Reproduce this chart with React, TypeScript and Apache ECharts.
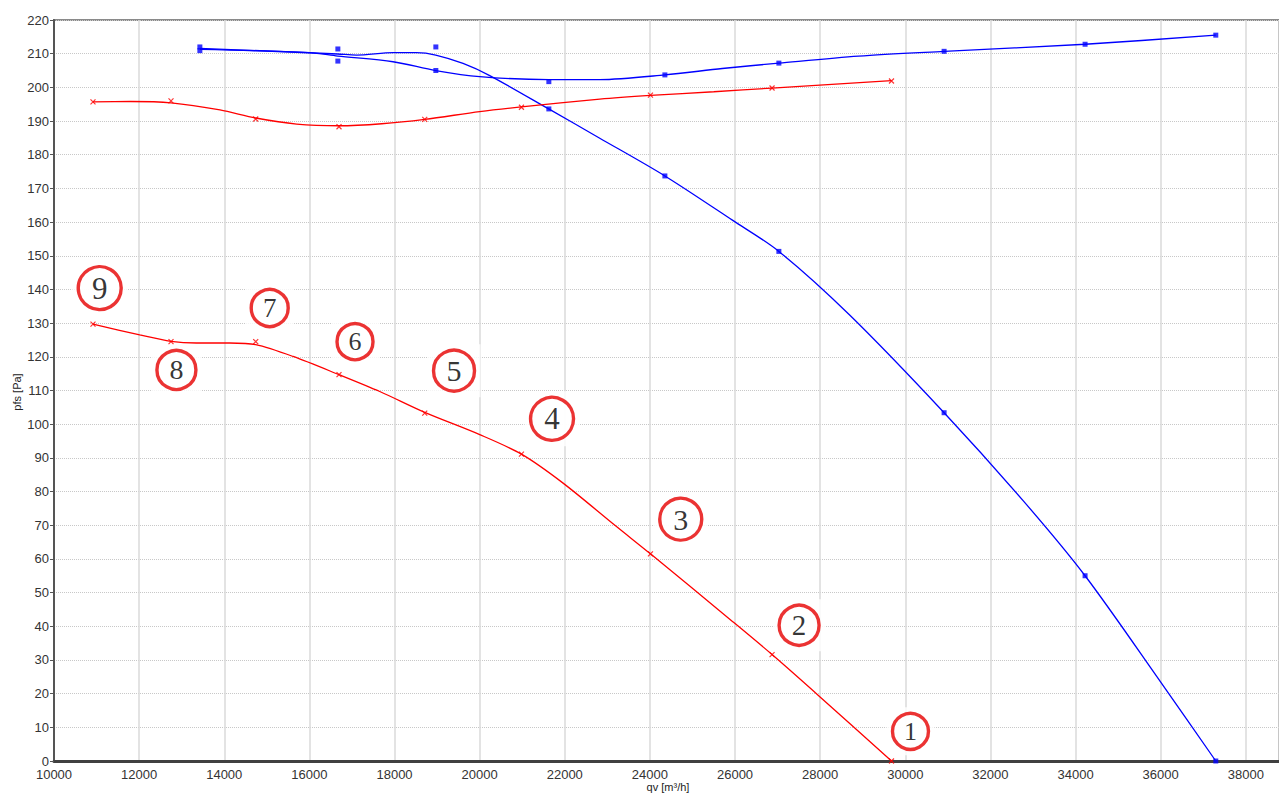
import React, { useEffect, useRef } from "react";
import * as echarts from "echarts";

// Measured operating points (flow qv in m³/h)
const qvRed = [10916, 12749, 14739, 16696, 18710, 20982, 24013, 26870, 29676];
const pfsRedLowMarks = [129.7, 124.5, 124.5, 114.7, 103.3, 91.1, 61.5, 31.6, 0];
const pfsRedHighMarks = [195.7, 196.0, 190.6, 188.3, 190.5, 194.1, 197.7, 199.8, 201.9];

const qvBlue = [13427, 16669, 18971, 21626, 24352, 27030, 30912, 34224, 37295];
const pfsBlueLowMarks = [212.0, 211.4, 212.0, 193.6, 173.7, 151.3, 103.4, 55.0, 0];
const pfsBlueHighMarks = [210.9, 207.8, 205.0, 201.7, 203.7, 207.2, 210.7, 212.8, 215.5];

// Fitted curves
const redLowCurveQv = [10916, 12014, 12749, 13346, 14128, 14739, 15616, 16696, 17653, 18710, 20002, 20982, 21960, 23214, 24013, 25954, 26870, 27991, 29676];
const redLowCurvePfs = [129.7, 126.5, 124.6, 124.1, 124.1, 123.6, 120.1, 114.7, 109.7, 103.5, 96.9, 91.1, 82.5, 69.6, 61.5, 41.3, 31.6, 19.1, 0];

const redHighCurveQv = [10916, 11800, 12749, 13900, 14739, 15700, 16696, 17700, 18710, 20002, 20982, 22822, 24013, 25500, 26870, 29676];
const redHighCurvePfs = [195.7, 195.8, 195.4, 193.3, 190.9, 189.1, 188.6, 189.2, 190.5, 192.8, 194.2, 196.5, 197.6, 198.7, 199.8, 202.0];

const blueHighCurveQv = [13427, 16008, 16666, 17965, 18968, 20002, 21623, 22822, 24352, 25700, 27030, 28900, 30912, 34224, 37295];
const blueHighCurvePfs = [211.3, 210.3, 209.3, 207.6, 205.0, 203.2, 202.3, 202.3, 203.7, 205.6, 207.2, 209.3, 210.7, 212.8, 215.5];

const blueLowCurveQv = [13427, 16666, 17105, 17965, 18515, 18968, 19610, 20237, 21623, 22822, 24352, 25947, 27030, 28693, 30912, 32768, 34224, 35997, 37295];
const blueLowCurvePfs = [211.6, 209.9, 209.6, 210.3, 210.3, 209.6, 207.1, 203.5, 193.6, 184.9, 173.7, 160.5, 151.3, 132.4, 103.4, 77.3, 55.0, 23.5, 0];

// Numbered callouts
const calloutLabels = ["9", "8", "7", "6", "5", "4", "3", "2", "1"];
const calloutQv = [11074, 12876, 15068, 17072, 19398, 21701, 24725, 27505, 30122];
const calloutPfs = [140.4, 116.1, 134.5, 124.5, 115.9, 101.6, 71.8, 40.3, 8.8];
const calloutRadius = [21.5, 19.5, 18.5, 18, 20.5, 21.5, 21, 20, 18];

const X_MIN = 10000;
const X_MAX = 38780;
const X_STEP = 2000;
const Y_MIN = 0;
const Y_MAX = 220;
const Y_STEP = 10;

const BLUE = "#0000ff";
const RED = "#ff0000";

const zip = (xs: number[], ys: number[]) => xs.map((x, i) => [x, ys[i]]);

export default function App() {
  const ref = useRef<HTMLDivElement>(null);

  useEffect(() => {
    if (!ref.current) return;
    const chart = echarts.init(ref.current, undefined, { renderer: "svg" });

    const lineSeries = (name: string, xs: number[], ys: number[], color: string) => ({
      name,
      type: "line",
      data: zip(xs, ys),
      smooth: 0.3,
      symbol: "none",
      z: 3,
      lineStyle: { color, width: 1.3 },
    });

    const calloutBg = calloutLabels.map((_, i) => ({
      value: [calloutQv[i], calloutPfs[i]],
      symbolSize: calloutRadius[i] * 2 + 12,
    }));
    const callouts = calloutLabels.map((lab, i) => ({
      value: [calloutQv[i], calloutPfs[i]],
      symbolSize: calloutRadius[i] * 2,
      label: { formatter: lab, fontSize: Math.round(calloutRadius[i] * 1.45) },
    }));

    chart.setOption({
      animation: false,
      backgroundColor: "#ffffff",
      grid: {
        left: 54,
        right: 0,
        top: 20,
        bottom: 33,
        show: true,
        borderColor: "#8a8a8a",
        borderWidth: 2,
        backgroundColor: "transparent",
      },
      xAxis: {
        type: "value",
        min: X_MIN,
        max: X_MAX,
        interval: X_STEP,
        axisLine: { show: true, lineStyle: { color: "#404040", width: 3 } },
        axisTick: { show: false },
        axisLabel: {
          showMaxLabel: false,
          color: "#333",
          fontSize: 13,
          fontFamily: "Liberation Sans, Arial, sans-serif",
          margin: 7,
          formatter: (v: number) => String(v),
        },
        splitLine: { show: true, lineStyle: { color: "#dadada", width: 1.5 } },
      },
      yAxis: {
        type: "value",
        min: Y_MIN,
        max: Y_MAX,
        interval: Y_STEP,
        axisLine: { show: true, lineStyle: { color: "#555555", width: 2 } },
        axisTick: { show: true, length: 4, lineStyle: { color: "#555555", width: 1 } },
        axisLabel: {
          color: "#333",
          fontSize: 13,
          fontFamily: "Liberation Sans, Arial, sans-serif",
          margin: 5,
          formatter: (v: number) => String(v),
        },
        splitLine: { show: true, lineStyle: { color: "#c8c8c8", width: 1, type: [1, 1] } },
      },
      series: [
        {
          name: "callout-bg",
          type: "scatter",
          symbol: "rect",
          z: 1,
          silent: true,
          itemStyle: { color: "#ffffff" },
          data: calloutBg,
        },
        lineSeries("blue-high", blueHighCurveQv, blueHighCurvePfs, BLUE),
        lineSeries("blue-low", blueLowCurveQv, blueLowCurvePfs, BLUE),
        lineSeries("red-high", redHighCurveQv, redHighCurvePfs, RED),
        lineSeries("red-low", redLowCurveQv, redLowCurvePfs, RED),
        {
          name: "blue-marks",
          type: "scatter",
          symbol: "rect",
          symbolSize: 5,
          z: 4,
          itemStyle: { color: BLUE },
          data: [...zip(qvBlue, pfsBlueHighMarks), ...zip(qvBlue, pfsBlueLowMarks)],
        },
        {
          name: "red-marks",
          type: "scatter",
          symbol: "path://M0,0L10,10M0,10L10,0",
          symbolSize: 5,
          z: 4,
          itemStyle: { color: "none", borderColor: RED, borderWidth: 1.2 },
          data: [...zip(qvRed, pfsRedHighMarks), ...zip(qvRed, pfsRedLowMarks)],
        },
        {
          name: "callouts",
          type: "scatter",
          symbol: "circle",
          z: 5,
          itemStyle: { color: "#ffffff", borderColor: "#e60000", borderWidth: 3.4 },
          label: {
            show: true,
            position: "inside",
            color: "#000",
            fontFamily: "Liberation Serif, DejaVu Serif, serif",
          },
          data: callouts,
        },
      ],
      graphic: [
        {
          type: "text",
          x: 17,
          y: 392,
          rotation: Math.PI / 2,
          style: {
            text: "pfs [Pa]",
            align: "center",
            verticalAlign: "middle",
            fontSize: 11,
            fontFamily: "Liberation Sans, Arial, sans-serif",
            fill: "#222",
          },
        },
        {
          type: "text",
          x: 668,
          y: 787,
          style: {
            text: "qv [m³/h]",
            align: "center",
            verticalAlign: "middle",
            fontSize: 11,
            fontFamily: "Liberation Sans, Arial, sans-serif",
            fill: "#222",
          },
        },
      ],
    });

    return () => chart.dispose();
  }, []);

  return (
    <div
      ref={ref}
      style={{ position: "fixed", left: 0, top: 0, width: 1279, height: 794, background: "#fff" }}
    />
  );
}
